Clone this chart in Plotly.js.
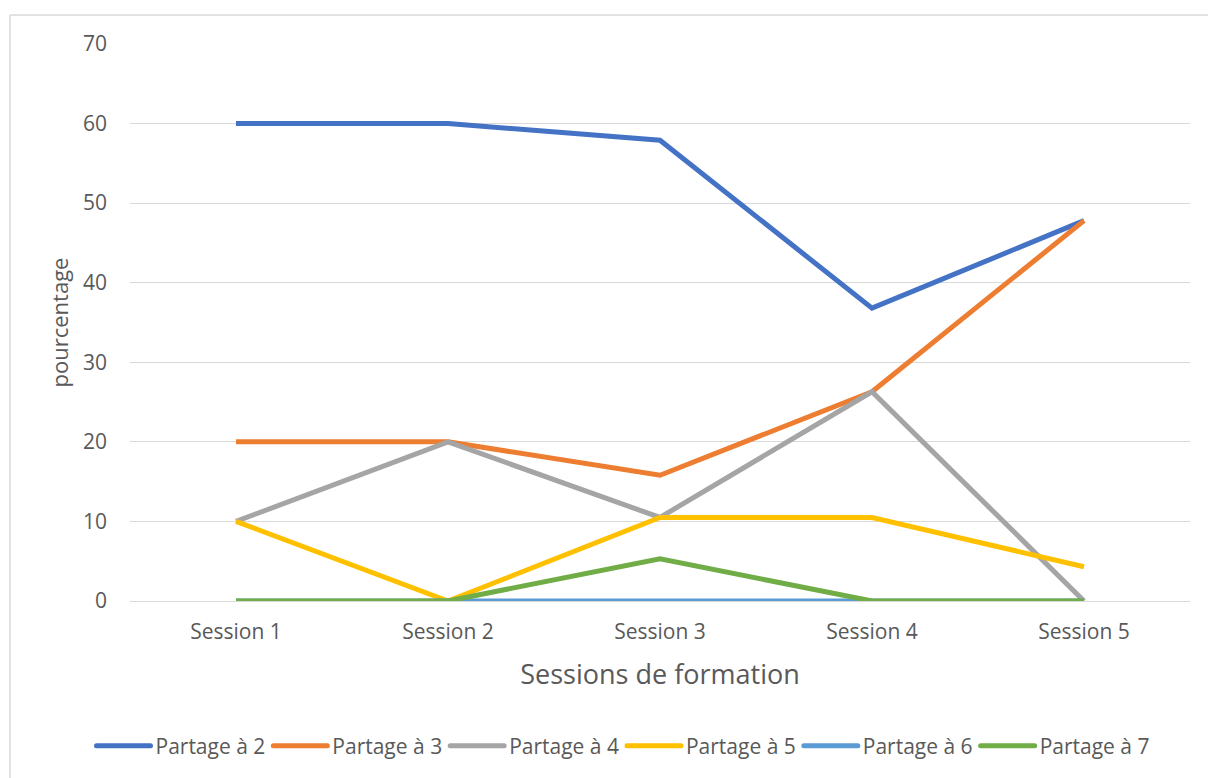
<!DOCTYPE html>
<html>
<head>
<meta charset="utf-8">
<script src="https://cdn.plot.ly/plotly-3.0.1.min.js"></script>
<style>html,body{margin:0;padding:0;background:#fff;}#chart{width:1208px;height:778px;}</style>
</head>
<body>
<div id="chart"></div>
<script>
const categories = ["Session 1", "Session 2", "Session 3", "Session 4", "Session 5"];
const seriesNames = ["Partage à 2", "Partage à 3", "Partage à 4", "Partage à 5", "Partage à 6", "Partage à 7"];
const partage2 = [60, 60, 57.9, 36.8, 47.8];
const partage3 = [20, 20, 15.8, 26.3, 47.8];
const partage4 = [10, 20, 10.5, 26.3, 0];
const partage5 = [10, 0, 10.5, 10.5, 4.3];
const partage6 = [0, 0, 0, 0, 0];
const partage7 = [0, 0, 5.3, 0, 0];
const colors = ["#4472C4", "#ED7D31", "#A5A5A5", "#FFC000", "#5B9BD5", "#70AD47"];

const values = [partage2, partage3, partage4, partage5, partage6, partage7];
const traces = values.map((v, i) => ({
  type: "scatter",
  mode: "lines",
  x: categories,
  y: v,
  name: seriesNames[i],
  line: {color: colors[i], width: 5},
  hoverinfo: "x+y+name"
}));

const W = 1060, H = 557;
const px = p => (p - 130) / W;
const py = p => (601 - p) / H;
const LEG_ITEM_W = 52;

const layout = {
  width: 1208,
  height: 778,
  margin: {l: 130, r: 18, t: 44, b: 177},
  paper_bgcolor: "#ffffff",
  plot_bgcolor: "#ffffff",
  font: {family: "Open Sans, Liberation Sans, sans-serif", color: "#595959", size: 21},
  showlegend: true,
  legend: {
    orientation: "h",
    x: px(624), xanchor: "center",
    y: py(746), yanchor: "middle",
    font: {size: 21, color: "#595959"},
    itemwidth: LEG_ITEM_W,
    traceorder: "normal"
  },
  xaxis: {
    type: "category",
    range: [-0.5, 4.5],
    showgrid: false,
    zeroline: false,
    showline: false,
    ticks: "",
    ticklabelstandoff: 16,
    tickfont: {size: 21, color: "#595959"},
    title: {text: "Sessions de formation", font: {size: 27, color: "#595959"}, standoff: 21}
  },
  yaxis: {
    range: [0, 70],
    dtick: 10,
    showgrid: true,
    gridcolor: "#d9d9d9",
    gridwidth: 1,
    zeroline: true,
    zerolinecolor: "#d9d9d9",
    zerolinewidth: 1,
    showline: false,
    ticks: "",
    ticklabelstandoff: 22,
    tickfont: {size: 21, color: "#595959"},
    title: {text: "pourcentage", font: {size: 22, color: "#595959"}, standoff: 8}
  },
  shapes: [
    {type: "line", xref: "paper", yref: "paper", x0: px(10), x1: px(10), y0: py(15), y1: py(790), line: {color: "#d9d9d9", width: 1.5}},
    {type: "line", xref: "paper", yref: "paper", x0: px(10), x1: px(1220), y0: py(15), y1: py(15), line: {color: "#d9d9d9", width: 1.5}}
  ]
};

Plotly.newPlot("chart", traces, layout, {displayModeBar: false, staticPlot: true}).then(gd => {
  // stretch legend line samples to fill the item width, as in the original
  gd.querySelectorAll(".legend .legendlines path").forEach(p => {
    p.setAttribute("d", "M3,0h" + (LEG_ITEM_W + 2));
    p.style.strokeLinecap = "round";
  });
});
</script>
</body>
</html>
